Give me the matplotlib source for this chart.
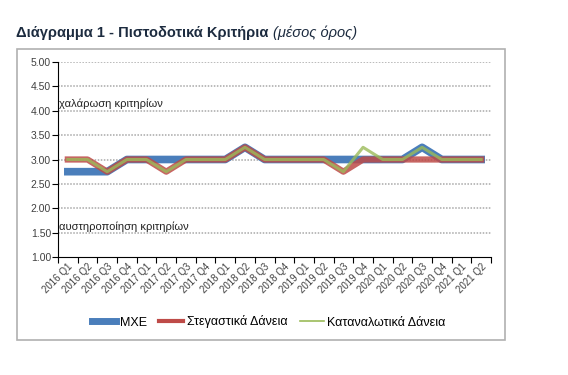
import matplotlib
matplotlib.use("Agg")
import matplotlib.pyplot as plt
from matplotlib.patches import Rectangle
from matplotlib.lines import Line2D

plt.rcParams['font.family'] = ['Liberation Sans', 'DejaVu Sans']

quarters = ['2016 Q1', '2016 Q2', '2016 Q3', '2016 Q4', '2017 Q1', '2017 Q2', '2017 Q3', '2017 Q4',
            '2018 Q1', '2018 Q2', '2018 Q3', '2018 Q4', '2019 Q1', '2019 Q2', '2019 Q3', '2019 Q4',
            '2020 Q1', '2020 Q2', '2020 Q3', '2020 Q4', '2021 Q1', '2021 Q2']
mxe = [2.75, 2.75, 2.75, 3.0, 3.0, 3.0, 3.0, 3.0, 3.0, 3.25, 3.0, 3.0,
       3.0, 3.0, 3.0, 3.0, 3.0, 3.0, 3.25, 3.0, 3.0, 3.0]
housing = [3.0, 3.0, 2.75, 3.0, 3.0, 2.75, 3.0, 3.0, 3.0, 3.25, 3.0, 3.0,
           3.0, 3.0, 2.75, 3.0, 3.0, 3.0, 3.0, 3.0, 3.0, 3.0]
consumer = [3.0, 3.0, 2.75, 3.0, 3.0, 2.75, 3.0, 3.0, 3.0, 3.25, 3.0, 3.0,
            3.0, 3.0, 2.75, 3.25, 3.0, 3.0, 3.25, 3.0, 3.0, 3.0]
yticks = [1.0, 1.5, 2.0, 2.5, 3.0, 3.5, 4.0, 4.5, 5.0]

blue = '#4a7ebb'
red = '#be4b48'
green = '#9bbb59'

fig = plt.figure(figsize=(5.68, 3.75), dpi=100)

# chart frame
fig.patches.append(Rectangle((17 / 568, 1 - 340 / 375), 488 / 568, 291 / 375,
                             transform=fig.transFigure, fill=False,
                             edgecolor='#b0b0b0', linewidth=1.2))

t1 = fig.text(16 / 568, 1 - 37 / 375, 'Διάγραμμα 1 - Πιστοδοτικά Κριτήρια', fontsize=10.5,
              fontweight='bold', color='#1c2b3f', va='baseline')
fig.canvas.draw()
bb = t1.get_window_extent()
fig.text((bb.x1 + 5) / 568, 1 - 37 / 375, '(μέσος όρος)', fontsize=10.5, style='italic',
         color='#1c2b3f', va='baseline')

ax = fig.add_axes([58 / 568, 1 - 257 / 375, 433 / 568, 195 / 375])
x = range(len(quarters))

ax.plot(x, mxe, color=blue, lw=5.5, zorder=3)
ax.plot(x, housing, color=red, lw=4.5, alpha=0.85, zorder=4)
ax.plot(x, consumer, color=green, lw=2.2, alpha=0.8, zorder=5)

ax.set_xlim(-0.5, len(quarters) - 0.5)
ax.set_ylim(1.0, 5.0)
ax.set_yticks(yticks)
ax.set_yticklabels(['%.2f' % v for v in yticks], fontsize=7.5, color='#404040')
for v in yticks[1:]:
    ax.axhline(v, color='#a8a8a8', lw=1.1, linestyle=(0, (1, 1)), zorder=1)

ax.set_xticks([i + 0.5 for i in range(-1, len(quarters))], minor=False)
ax.set_xticklabels([])
ax.set_xticks(list(x), minor=True)
ax.set_xticklabels(quarters, minor=True, rotation=45, ha='right', rotation_mode='anchor',
                   fontsize=7, color='#404040')
ax.tick_params(axis='x', which='minor', length=0, pad=3)
ax.tick_params(axis='x', which='major', length=4, direction='out', color='black')
ax.tick_params(axis='y', length=4, direction='out', color='black', pad=1)

for s in ['top', 'right']:
    ax.spines[s].set_visible(False)
ax.spines['left'].set_color('black')
ax.spines['bottom'].set_color('black')

ax.text(0.003, 4.04, 'χαλάρωση κριτηρίων', fontsize=8, color='#222222',
        transform=ax.get_yaxis_transform(), va='bottom', ha='left')
ax.text(0.003, 1.52, 'αυστηροποίηση κριτηρίων', fontsize=8, color='#222222',
        transform=ax.get_yaxis_transform(), va='bottom', ha='left')

handles = [Line2D([], [], color=blue, lw=5), Line2D([], [], color=red, lw=3),
           Line2D([], [], color=green, lw=1.2)]
fig.legend(handles, ['MXE', 'Στεγαστικά Δάνεια', 'Καταναλωτικά Δάνεια'],
           loc='center', bbox_to_anchor=(269 / 568, 1 - 322 / 375), ncol=3, frameon=False,
           fontsize=9, handlelength=1.9, columnspacing=1.0, handletextpad=0.3)

fig.savefig('out.png', dpi=100)
